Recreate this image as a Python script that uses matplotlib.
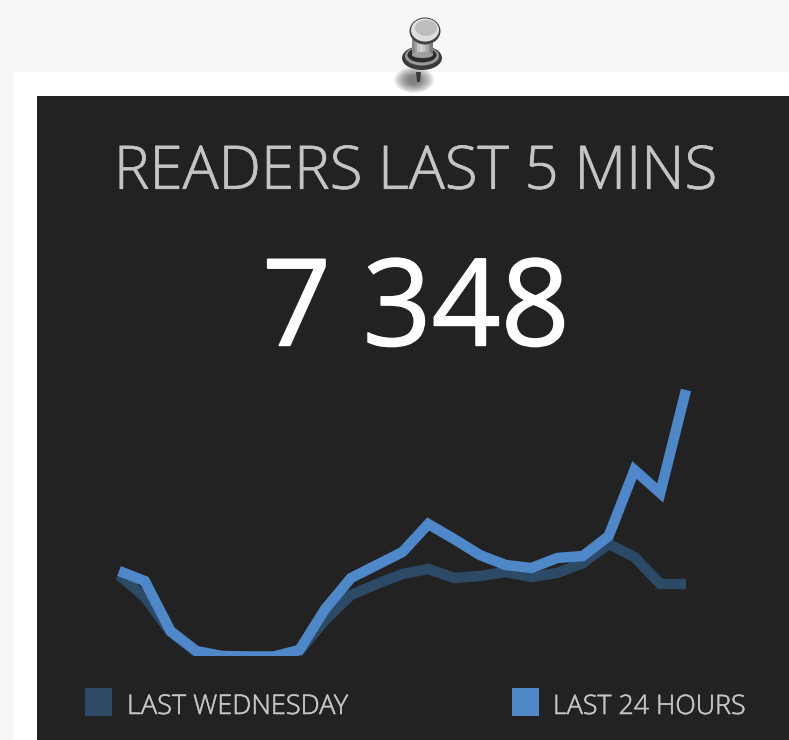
import matplotlib
matplotlib.use("Agg")
import matplotlib.pyplot as plt
from matplotlib.patches import Rectangle, Ellipse, Polygon
from matplotlib.font_manager import FontProperties
import matplotlib.patheffects as pe

W, H = 789, 740
title = "READERS LAST 5 MINS"
big_number = "7 348"
label_prev = "LAST WEDNESDAY"
label_now = "LAST 24 HOURS"
last_24_hours = [2357, 2082, 703, 152, 14, 0, 0, 179, 1310, 2164, 2523, 2881,
                 3653, 3239, 2798, 2523, 2440, 2716, 2771, 3322, 5142, 4508, 7348]
last_wednesday = [2247, 1640, 675, 124, 14, 0, 0, 152, 1006, 1696, 1999, 2275,
                  2412, 2164, 2219, 2330, 2192, 2302, 2578, 3102, 2743, 1999, 1999]

BLUE, DARK, PANEL, TXT = "#4f88c9", "#2c4a66", "#222222", "#c4c4c4"

fig = plt.figure(figsize=(W / 100, H / 100), dpi=100, facecolor="#f7f7f7")
bg = fig.add_axes([0, 0, 1, 1])
bg.set_xlim(0, W); bg.set_ylim(H, 0); bg.axis("off")
bg.add_patch(Rectangle((13, 72), W, H, fc="white", ec="none"))

# push pin shadow (soft, drawn under the panel edge)
for k in range(12):
    bg.add_patch(Ellipse((414, 80), 40 - 2.6 * k, 26 - 1.6 * k, fc="#333333", ec="none", alpha=0.07))
bg.add_patch(Rectangle((37, 96), W, H, fc=PANEL, ec="none"))

# push pin
bg.add_patch(Polygon([(416, 72), (421, 72), (420, 82), (417, 82)], fc="#3a3a3a", ec="none"))
bg.add_patch(Ellipse((422, 58), 40, 24, fc="#3a3a3a", ec="none"))
bg.add_patch(Ellipse((422, 56), 34, 19, fc="#9a9a9a", ec="none"))
bg.add_patch(Ellipse((422, 55), 29, 15, fc="#2c2c2c", ec="none"))
shaft = ["#8a8a8a", "#a2a2a2", "#c4c4c4", "#d6d6d6", "#c8c8c8", "#b0b0b0", "#9a9a9a", "#7c7c7c"]
for i, c in enumerate(shaft):
    bg.add_patch(Rectangle((412 + i * 2.6, 34), 2.7, 21, fc=c, ec="none"))
bg.add_patch(Ellipse((422.5, 55), 20.8, 6, fc="#a0a0a0", ec="none"))
bg.add_patch(Ellipse((425, 31), 31, 27, fc="#444444", ec="none"))
bg.add_patch(Ellipse((425, 30), 28, 23, fc="#dedede", ec="none"))
bg.add_patch(Ellipse((426, 28), 22, 16, fc="#bdbdbd", ec="none"))

light = FontProperties(family="Open Sans", weight="light")
regular = FontProperties(family="Open Sans", weight="normal")
thin_stroke = [pe.withStroke(linewidth=0.5, foreground=TXT)]
bg.text(416, 173, title, color=TXT, ha="center", va="center", fontproperties=light,
        fontsize=43.2, path_effects=thin_stroke)
bg.text(416, 314, big_number, color="white", ha="center", va="center", fontproperties=regular,
        fontsize=87, path_effects=[pe.withStroke(linewidth=1.0, foreground="white")])

# chart
ax = fig.add_axes([119 / W, 1 - 656.5 / H, (686 - 119) / W, (656.5 - 390) / H])
ax.patch.set_alpha(0)
ax.axis("off")
ax.set_xlim(0, 22); ax.set_ylim(0, 7348)
xs = list(range(len(last_24_hours)))
clip = Rectangle((0, 0), W, 656, transform=bg.transData)
for vals, col in ((last_wednesday, DARK), (last_24_hours, BLUE)):
    ln, = ax.plot(xs, vals, color=col, lw=7.5, solid_joinstyle="miter", solid_capstyle="butt")
    ln.set_clip_path(clip)

# legend
bg.add_patch(Rectangle((85, 688), 27, 28, fc=DARK, ec="none"))
bg.add_patch(Rectangle((512, 688), 27, 28, fc=BLUE, ec="none"))
leg_stroke = [pe.withStroke(linewidth=0.4, foreground=TXT)]
bg.text(127, 707, label_prev, color=TXT, ha="left", va="center", fontproperties=light,
        fontsize=19.5, path_effects=leg_stroke)
bg.text(553, 707, label_now, color=TXT, ha="left", va="center", fontproperties=light,
        fontsize=19.3, path_effects=leg_stroke)

fig.savefig("out.png", dpi=100, facecolor=fig.get_facecolor())
